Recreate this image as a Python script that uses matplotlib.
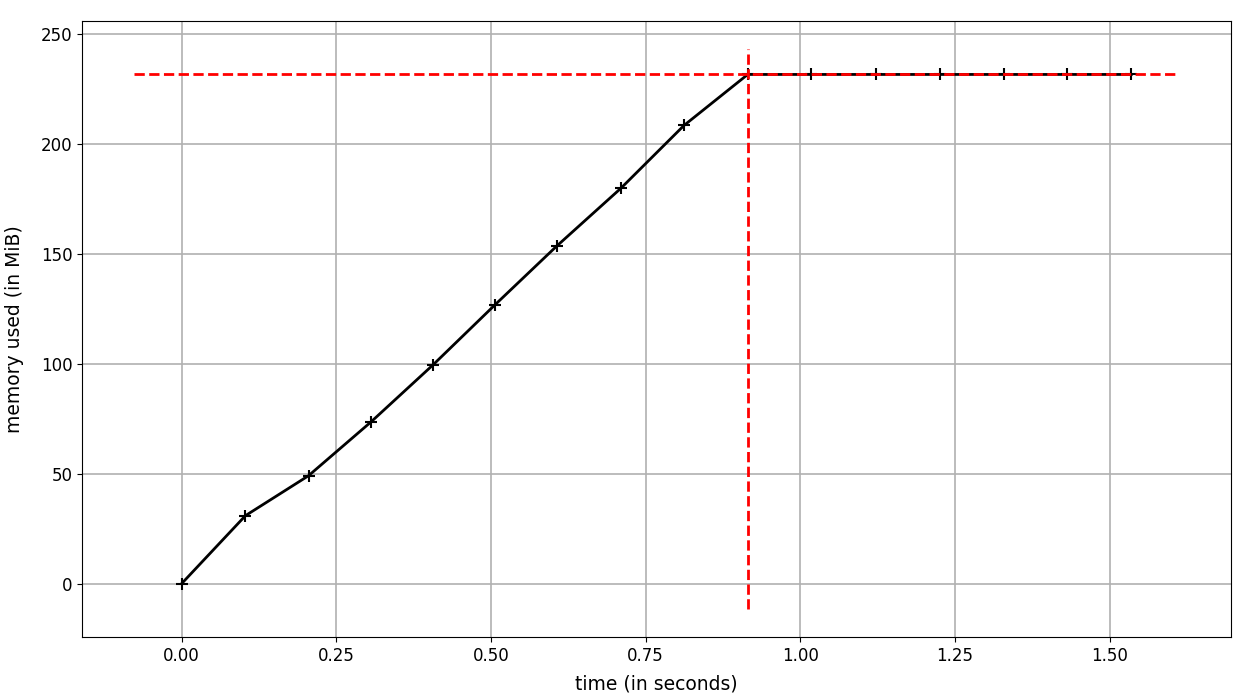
import matplotlib
matplotlib.use("Agg")
import matplotlib.pyplot as plt

# sampled memory usage
t = [0.0, 0.103, 0.205, 0.306, 0.406, 0.506, 0.606, 0.710, 0.812, 0.915,
     1.018, 1.123, 1.226, 1.330, 1.431, 1.535]
mem = [0.0, 30.9, 49.1, 73.6, 99.5, 126.8, 153.6, 180.0, 208.6, 231.8,
       231.8, 231.8, 231.8, 231.8, 231.8, 231.8]

plt.rcParams['font.size'] = 12

fig = plt.figure(figsize=(12.36, 6.96), dpi=100)
ax = fig.add_axes([82 / 1236, 59 / 696, 1149 / 1236, 616 / 696])

ax.plot(t, mem, '+-', color='k', linewidth=2, markersize=9, markeredgewidth=1.5)

max_mem = max(mem)
t_max = t[mem.index(max_mem)]

bottom, top = ax.get_ylim()
left, right = ax.get_xlim()
ax.vlines(t_max, bottom + 0.001, top - 0.001, colors='r', linestyles='--',
          linewidth=2, zorder=3)
ax.hlines(max_mem, left, right, colors='r', linestyles='--', linewidth=2, zorder=3)

ax.grid(True, color='#b0b0b0', linewidth=1.2)
ax.set_xlabel("time (in seconds)", fontsize=13.5, labelpad=7)
ax.set_ylabel("memory used (in MiB)", fontsize=13.5, labelpad=12)

fig.savefig("out.png", dpi=100)
